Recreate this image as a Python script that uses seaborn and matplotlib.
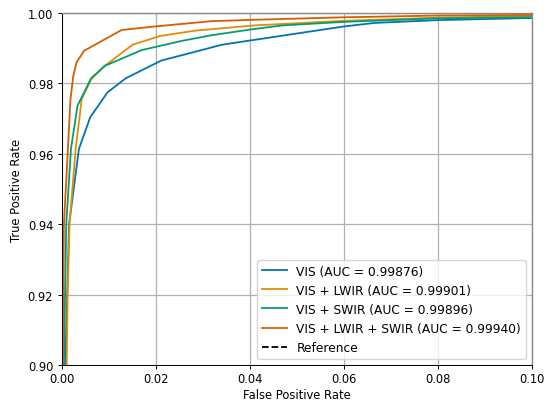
import matplotlib
matplotlib.use("Agg")
import matplotlib.pyplot as plt
import seaborn as sns

# ROC operating points (false positive rate, true positive rate) per sensor combination
vis_fpr = [0, 0.0007, 0.0011, 0.0015, 0.0036, 0.0060, 0.0097, 0.0136, 0.0211, 0.0283, 0.0340, 0.0410, 0.0600, 0.0665, 0.080, 0.1, 1]
vis_tpr = [0, 0.900, 0.920, 0.940, 0.9614, 0.9704, 0.9775, 0.9815, 0.9865, 0.9890, 0.9910, 0.9924, 0.9962, 0.9972, 0.9980, 0.9986, 1]

lwir_fpr = [0, 0.0010, 0.0012, 0.0016, 0.0029, 0.0042, 0.0062, 0.0091, 0.0150, 0.0209, 0.0283, 0.0410, 0.0600, 0.0800, 0.1, 1]
lwir_tpr = [0, 0.900, 0.920, 0.940, 0.9614, 0.9756, 0.9812, 0.9850, 0.9910, 0.9935, 0.9950, 0.9965, 0.9978, 0.9987, 0.9992, 1]

swir_fpr = [0, 0.0004, 0.0009, 0.0019, 0.0033, 0.0062, 0.0091, 0.0170, 0.0255, 0.0318, 0.0410, 0.0470, 0.0600, 0.0800, 0.1, 1]
swir_tpr = [0, 0.900, 0.940, 0.9614, 0.9737, 0.9815, 0.9850, 0.9895, 0.9921, 0.9937, 0.9955, 0.9965, 0.9975, 0.9985, 0.9988, 1]

all_fpr = [0, 0.0002, 0.0004, 0.0012, 0.0018, 0.0024, 0.0031, 0.0047, 0.0127, 0.0198, 0.0262, 0.0318, 0.0410, 0.0600, 0.0800, 0.1, 1]
all_tpr = [0, 0.900, 0.940, 0.9600, 0.9756, 0.9822, 0.9860, 0.9893, 0.9952, 0.9962, 0.9970, 0.9977, 0.9981, 0.9988, 0.9993, 0.9995, 1]

labels = [
    "VIS (AUC = 0.99876)",
    "VIS + LWIR (AUC = 0.99901)",
    "VIS + SWIR (AUC = 0.99896)",
    "VIS + LWIR + SWIR (AUC = 0.99940)",
]
ref_x = [0, 1]
ref_y = [0, 1]

plt.rcParams.update({
    "font.size": 8.3,
    "xtick.major.size": 2.9,
    "ytick.major.size": 2.9,
    "xtick.major.width": 0.7,
    "ytick.major.width": 0.7,
    "axes.linewidth": 0.7,
})

palette = sns.color_palette("colorblind")
colors = [palette[0], palette[1], palette[2], palette[3]]

fig = plt.figure(figsize=(5.45, 4.02), dpi=100)
ax = fig.add_axes([0.1138, 0.0896, 0.8624, 0.8754])

series = [(vis_fpr, vis_tpr), (lwir_fpr, lwir_tpr), (swir_fpr, swir_tpr), (all_fpr, all_tpr)]
for (x, y), lab, c in zip(series, labels, colors):
    sns.lineplot(x=x, y=y, ax=ax, label=lab, color=c, linewidth=1.3,
                 estimator=None, sort=False)
sns.lineplot(x=ref_x, y=ref_y, ax=ax, label="Reference", color="black",
             linestyle="--", linewidth=1.3, estimator=None, sort=False)

ax.set_xlim(0, 0.1)
ax.set_ylim(0.9, 1.0)
ax.set_xticks([0, 0.02, 0.04, 0.06, 0.08, 0.10])
ax.set_yticks([0.90, 0.92, 0.94, 0.96, 0.98, 1.00])
ax.xaxis.set_major_formatter(matplotlib.ticker.FormatStrFormatter("%.2f"))
ax.yaxis.set_major_formatter(matplotlib.ticker.FormatStrFormatter("%.2f"))
ax.tick_params(axis="x", pad=2.5)
ax.grid(True, color="#b0b0b0", linewidth=0.9)
ax.set_xlabel("False Positive Rate", labelpad=1.5)
ax.set_ylabel("True Positive Rate", labelpad=3)
for side in ("top", "right"):
    ax.spines[side].set_color("#8a8a8a")
    ax.spines[side].set_linewidth(1.0)
ax.legend(loc="lower right", fontsize=8.8)

fig.savefig("out.png", dpi=100)
